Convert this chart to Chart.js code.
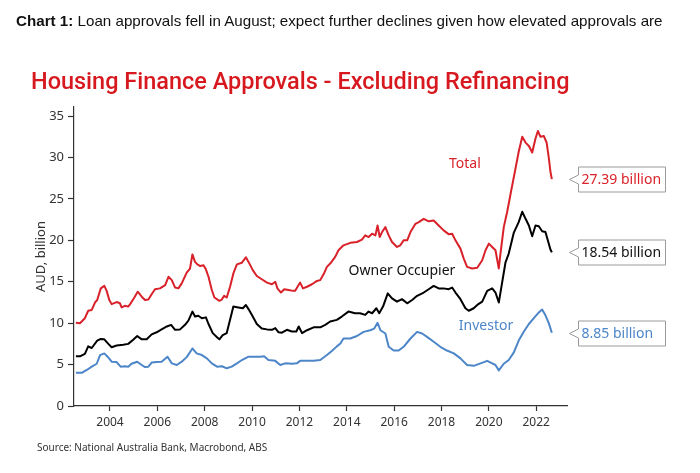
<!DOCTYPE html>
<html><head><meta charset="utf-8">
<script src="https://cdn.jsdelivr.net/npm/chart.js@4.4.1/dist/chart.umd.min.js"></script>
<style>
html,body{margin:0;padding:0;background:#fff;width:700px;height:473px;overflow:hidden;}
#wrap{position:relative;width:700px;height:473px;}
#cv{position:absolute;left:0;top:0;}
.cap{position:absolute;left:16px;top:12px;font:15px "Liberation Sans",Arial,sans-serif;color:#111;white-space:nowrap;transform-origin:left top;}
.ttl{position:absolute;left:31px;top:67px;font:500 24px Roboto,sans-serif;color:#d7191f;white-space:nowrap;transform-origin:left top;}
.src{position:absolute;left:37px;top:440px;font:10px "Noto Sans",sans-serif;color:#333;white-space:nowrap;}
</style></head>
<body><div id="wrap">
<canvas id="cv" width="700" height="473"></canvas>
<div class="cap" id="cap"><b>Chart 1:</b> Loan approvals fell in August; expect further declines given how elevated approvals are</div>
<div class="ttl" id="ttl">Housing Finance Approvals - Excluding Refinancing</div>
<div class="src">Source: National Australia Bank, Macrobond, ABS</div>
</div>
<script>
// ---- data (decimal years, AUD billion) ----
const xTickYears = [2004, 2006, 2008, 2010, 2012, 2014, 2016, 2018, 2020, 2022];
const yTickValues = [0, 5, 10, 15, 20, 25, 30, 35];

const totalYears = [2002.56,2002.73,2002.94,2003.08,2003.23,2003.37,2003.46,2003.61,2003.76,2003.86,2003.97,2004.07,2004.28,2004.42,2004.49,2004.63,2004.77,2004.85,2005.01,2005.17,2005.34,2005.48,2005.62,2005.76,2005.90,2006.11,2006.33,2006.47,2006.61,2006.75,2006.89,2007.03,2007.24,2007.38,2007.48,2007.59,2007.69,2007.81,2007.95,2008.05,2008.16,2008.30,2008.41,2008.62,2008.72,2008.82,2008.93,2009.07,2009.21,2009.36,2009.57,2009.74,2009.85,2010.03,2010.20,2010.41,2010.63,2010.84,2010.98,2011.07,2011.22,2011.36,2011.54,2011.73,2011.82,2011.92,2012.03,2012.15,2012.32,2012.53,2012.74,2012.88,2013.02,2013.16,2013.30,2013.51,2013.65,2013.86,2014.15,2014.43,2014.64,2014.78,2014.92,2015.07,2015.21,2015.30,2015.39,2015.49,2015.63,2015.77,2015.91,2016.12,2016.26,2016.40,2016.55,2016.69,2016.90,2017.04,2017.25,2017.46,2017.67,2017.88,2018.09,2018.30,2018.45,2018.59,2018.80,2018.94,2019.08,2019.29,2019.51,2019.72,2019.86,2020.00,2020.14,2020.28,2020.42,2020.49,2020.63,2020.77,2020.91,2021.12,2021.26,2021.41,2021.55,2021.69,2021.83,2021.97,2022.07,2022.18,2022.32,2022.44,2022.53,2022.60,2022.66];
const totalValues = [10.05,10.0,10.6,11.5,11.6,12.5,12.8,14.2,14.5,13.9,12.8,12.3,12.55,12.4,11.9,12.1,12.0,12.3,13.0,13.8,13.2,12.8,12.85,13.5,14.1,14.2,14.6,15.6,15.2,14.3,14.2,14.8,16.1,16.6,18.3,17.4,17.1,16.9,17.0,16.5,15.6,14.0,13.1,12.7,12.85,13.3,13.1,14.4,16.0,17.1,17.3,17.95,17.4,16.4,15.7,15.3,14.9,14.7,15.0,14.2,13.7,14.1,14.0,13.9,13.9,14.4,14.9,14.2,14.4,14.7,15.1,15.2,15.9,16.8,17.2,18.0,18.8,19.4,19.7,19.8,20.1,20.6,20.4,20.8,20.6,21.8,20.4,21.0,21.6,20.6,19.8,19.2,19.4,20.0,20.0,21.0,22.0,22.2,22.6,22.3,22.4,21.8,21.2,20.75,20.8,20.0,19.0,17.8,16.8,16.6,16.7,17.6,18.8,19.6,19.2,18.8,16.6,18.4,21.6,23.4,25.5,28.6,30.7,32.5,31.8,31.4,30.6,32.3,33.2,32.5,32.6,31.8,30.0,28.3,27.39];

const ownerYears = [2002.56,2002.73,2002.94,2003.08,2003.23,2003.33,2003.46,2003.61,2003.76,2003.93,2004.07,2004.28,2004.56,2004.77,2004.98,2005.15,2005.34,2005.55,2005.76,2005.97,2006.18,2006.40,2006.58,2006.75,2006.96,2007.17,2007.31,2007.48,2007.59,2007.73,2007.88,2008.05,2008.16,2008.34,2008.52,2008.62,2008.76,2008.93,2009.07,2009.21,2009.42,2009.61,2009.74,2009.85,2010.03,2010.20,2010.41,2010.63,2010.84,2010.98,2011.12,2011.26,2011.47,2011.68,2011.87,2011.97,2012.11,2012.32,2012.60,2012.88,2013.09,2013.30,2013.58,2013.79,2014.07,2014.35,2014.56,2014.78,2014.92,2015.07,2015.25,2015.37,2015.53,2015.73,2015.91,2016.12,2016.33,2016.55,2016.76,2016.97,2017.25,2017.46,2017.67,2017.88,2018.09,2018.30,2018.45,2018.59,2018.80,2019.01,2019.15,2019.36,2019.51,2019.72,2019.93,2020.14,2020.28,2020.42,2020.56,2020.70,2020.84,2021.05,2021.26,2021.41,2021.55,2021.69,2021.83,2021.97,2022.11,2022.25,2022.39,2022.49,2022.60,2022.66];
const ownerValues = [6.0,6.0,6.3,7.2,7.0,7.4,7.9,8.1,8.05,7.5,7.1,7.3,7.4,7.5,8.0,8.45,8.05,8.05,8.65,8.9,9.25,9.6,9.8,9.2,9.25,9.8,10.3,11.4,10.8,10.9,10.6,10.7,9.9,8.8,8.3,8.05,8.55,8.8,10.4,12.0,11.9,11.8,12.2,11.7,10.8,9.9,9.35,9.25,9.2,9.4,8.9,8.85,9.2,9.0,9.0,9.6,8.8,9.15,9.5,9.5,9.8,10.2,10.4,10.8,11.4,11.2,11.2,11.0,11.4,11.2,11.8,11.2,12.0,13.6,13.0,12.6,12.9,12.4,12.8,13.3,13.7,14.1,14.5,14.2,14.2,14.1,14.3,13.7,12.9,11.8,11.5,11.8,12.2,12.6,13.9,14.2,13.7,12.5,14.9,17.3,18.4,20.9,22.2,23.45,22.6,21.8,20.5,21.8,21.7,21.1,21.0,20.0,18.9,18.54];

const investorYears = [2002.56,2002.81,2003.02,2003.23,2003.44,2003.58,2003.76,2003.90,2004.07,2004.28,2004.45,2004.63,2004.77,2004.91,2005.15,2005.34,2005.48,2005.62,2005.76,2005.97,2006.18,2006.43,2006.61,2006.82,2007.03,2007.24,2007.48,2007.66,2007.88,2008.09,2008.30,2008.52,2008.73,2008.93,2009.14,2009.36,2009.57,2009.85,2010.13,2010.34,2010.51,2010.69,2010.98,2011.19,2011.40,2011.68,2011.89,2012.03,2012.32,2012.60,2012.88,2013.16,2013.37,2013.58,2013.73,2013.86,2014.15,2014.43,2014.71,2014.99,2015.16,2015.30,2015.42,2015.63,2015.77,2015.98,2016.19,2016.40,2016.69,2016.97,2017.18,2017.39,2017.67,2017.95,2018.23,2018.52,2018.80,2019.08,2019.36,2019.65,2019.93,2020.14,2020.28,2020.42,2020.63,2020.84,2021.05,2021.26,2021.48,2021.69,2021.90,2022.11,2022.25,2022.39,2022.53,2022.66];
const investorValues = [4.0,4.0,4.35,4.75,5.1,6.15,6.35,5.95,5.35,5.3,4.75,4.8,4.75,5.1,5.35,4.95,4.7,4.75,5.25,5.3,5.35,5.95,5.15,4.95,5.35,5.9,6.95,6.35,6.15,5.75,5.15,4.75,4.8,4.55,4.75,5.15,5.55,5.95,5.95,5.95,6.0,5.55,5.45,4.95,5.15,5.1,5.15,5.45,5.45,5.45,5.55,6.15,6.65,7.2,7.55,8.15,8.15,8.45,8.95,9.15,9.35,10.05,9.15,8.75,7.15,6.7,6.7,7.15,8.15,8.95,8.75,8.35,7.75,7.15,6.7,6.35,5.75,4.95,4.85,5.15,5.45,5.15,4.95,4.3,5.1,5.55,6.45,7.9,9.0,9.9,10.6,11.3,11.65,10.95,10.0,8.85];

const RED = '#d9212a', BLACK = '#000000', BLUE = '#4d86c8';

// fit header widths like reference
const ttl = document.getElementById('ttl');
ttl.style.transform = 'scaleX(' + (538 / ttl.offsetWidth) + ')';
const cap = document.getElementById('cap');
cap.style.transform = 'scaleX(' + (647 / cap.offsetWidth) + ')';

const toXY = (xs, ys) => xs.map((x, i) => ({ x: x, y: ys[i] }));

const labelPlugin = {
  id: 'labels',
  afterDatasetsDraw(chart) {
    const { ctx, scales: { x, y }, chartArea } = chart;
    ctx.save();
    ctx.font = '14px "Noto Sans", sans-serif';
    ctx.textAlign = 'center';
    ctx.textBaseline = 'middle';
    const names = [
      { t: 'Total', yr: 2018.99, v: 29.2, c: RED },
      { t: 'Owner Occupier', yr: 2016.33, v: 16.3, c: '#111' },
      { t: 'Investor', yr: 2019.88, v: 9.65, c: BLUE }
    ];
    names.forEach(n => { ctx.fillStyle = n.c; ctx.fillText(n.t, x.getPixelForValue(n.yr), y.getPixelForValue(n.v)); });
    const callouts = [
      { v: totalValues[totalValues.length - 1], c: RED },
      { v: ownerValues[ownerValues.length - 1], c: '#111' },
      { v: investorValues[investorValues.length - 1], c: BLUE }
    ];
    const bl = chartArea.right + 11.5, bw = 87, bh = 25, tip = chartArea.right + 2.5;
    ctx.textAlign = 'left';
    callouts.forEach(cb => {
      const cy = Math.round(y.getPixelForValue(cb.v)) + 0.5;
      const top = cy - bh / 2, bot = cy + bh / 2;
      ctx.beginPath();
      ctx.moveTo(bl, top);
      ctx.lineTo(bl + bw, top);
      ctx.lineTo(bl + bw, bot);
      ctx.lineTo(bl, bot);
      ctx.lineTo(bl, cy + 4.5);
      ctx.lineTo(tip, cy);
      ctx.lineTo(bl, cy - 4.5);
      ctx.closePath();
      ctx.fillStyle = '#fff';
      ctx.fill();
      ctx.strokeStyle = '#9a9a9a';
      ctx.lineWidth = 1;
      ctx.stroke();
      ctx.fillStyle = cb.c;
      ctx.fillText(cb.v.toFixed(2) + ' billion', bl + 3, cy + 0.5);
    });
    ctx.restore();
  }
};

const axisCommon = {
  grid: { display: true, drawOnChartArea: false, drawTicks: true, color: '#333', tickColor: '#333', tickWidth: 1.2 },
  border: { display: true, color: '#333', width: 1.2 }
};

new Chart(document.getElementById('cv'), {
  type: 'line',
  data: {
    datasets: [
      { label: 'Total', data: toXY(totalYears, totalValues), borderColor: RED, borderWidth: 2 },
      { label: 'Owner Occupier', data: toXY(ownerYears, ownerValues), borderColor: BLACK, borderWidth: 2 },
      { label: 'Investor', data: toXY(investorYears, investorValues), borderColor: BLUE, borderWidth: 2 }
    ]
  },
  options: {
    responsive: false,
    animation: false,
    parsing: false,
    elements: { point: { radius: 0 }, line: { tension: 0, borderJoinStyle: 'round' } },
    layout: { padding: { left: 0, right: 133, top: 107, bottom: 0 } },
    plugins: { legend: { display: false }, tooltip: { enabled: false }, title: { display: false } },
    scales: {
      x: {
        type: 'linear', min: 2002.48, max: 2023.3,
        afterBuildTicks: s => { s.ticks = xTickYears.map(v => ({ value: v })); },
        afterFit: s => { s.height = 67; },
        ticks: { callback: v => String(v), font: { family: 'Noto Sans', size: 12 }, color: '#333', padding: 4, maxRotation: 0, autoSkip: false },
        grid: Object.assign({}, axisCommon.grid, { tickLength: 5 }),
        border: axisCommon.border
      },
      y: {
        min: 0, max: 36.1,
        afterBuildTicks: s => { s.ticks = yTickValues.map(v => ({ value: v })); },
        afterFit: s => { s.width = 74; },
        ticks: { callback: v => String(v), font: { family: 'Noto Sans', size: 13 }, color: '#333', padding: 4 },
        grid: Object.assign({}, axisCommon.grid, { tickLength: 6 }),
        border: axisCommon.border,
        title: { display: true, text: 'AUD, billion', font: { family: 'Noto Sans', size: 13 }, color: '#333', padding: { top: 33, bottom: 0 } }
      }
    }
  },
  plugins: [labelPlugin]
});
</script>
</body></html>
